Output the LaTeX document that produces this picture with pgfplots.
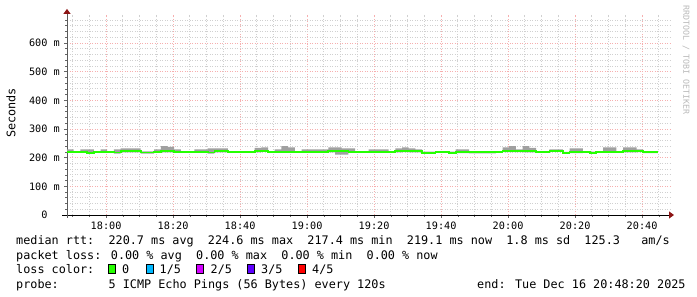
\documentclass[border=0pt]{standalone}
\usepackage{fontspec}
\setmainfont{DejaVu Sans Mono}
\usepackage{pgfplots}
\pgfplotsset{compat=1.18}
\usepackage{pgfplotstable}
\usepgfplotslibrary{fillbetween}
\usetikzlibrary{arrows.meta}

\definecolor{mgridc}{RGB}{246,175,175}
\definecolor{gridc}{RGB}{208,208,208}
\definecolor{smoke}{RGB}{160,160,160}
\definecolor{med}{RGB}{38,255,0}
\definecolor{arrowred}{RGB}{140,20,20}
\definecolor{l1}{RGB}{0,184,255}
\definecolor{l2}{RGB}{210,0,255}
\definecolor{l3}{RGB}{94,0,255}
\definecolor{l4}{RGB}{255,0,0}
\definecolor{wmark}{RGB}{185,185,185}

\newcommand\legendfont{\fontsize{11.8bp}{14bp}\selectfont}
\newcommand\axisfont{\fontsize{10.2bp}{12bp}\selectfont}
\newcommand\wmfont{\fontsize{8.3bp}{10bp}\selectfont}

\pgfplotstableread{
t m lo hi
0 221 217.5 229
2 221 217.5 223
4 221 217.5 229
6 217.5 214 229
8 221 217.5 223
10 221 217.5 229
12 221 217.5 223
14 218 214.5 229
16 222 218.5 232
18 222 218.5 232
20 222 218.5 232
22 218 214.5 222
24 218 214.5 222
26 221 217.5 229
28 222 218.5 240
30 222 218.5 238
32 221 217.5 229
34 220 216.5 222
36 220 216.5 222
38 221 217.5 229
40 221 217.5 229
42 218 214.5 232
44 222 218.5 232
46 222 218.5 232
48 221 217.5 223
50 221 217.5 223
52 221 217.5 223
54 221 217.5 223
56 222 218.5 234
58 224 220.5 236
60 221 217.5 223
62 221 217.5 229
64 221 217.5 240
66 221 217.5 236
68 220 216.5 222
70 220 216.5 229
72 220 216.5 229
74 220 216.5 229
76 221 217.5 229
78 222 218.5 236
80 222 211 236
82 223 211 232
84 221 217.5 232
86 220 216.5 222
88 220 216.5 222
90 221 217.5 229
92 221 217.5 229
94 221 217.5 229
96 220 216.5 222
98 222 218.5 232
100 223 219.5 236
102 222 218.5 232
104 222 218.5 229
106 217.5 214 221
108 217.5 214 221
110 220 216.5 222
112 220 216.5 222
114 217.5 214 221
116 219 215.5 229
118 219 215.5 229
120 218.5 215 222
122 218.5 215 222
124 218.5 215 222
126 218.5 215 222
128 221 217.5 223
130 223 219.5 236
132 223 219.5 240
134 223 219.5 229
136 222 218.5 240
138 222 218.5 234
140 221 217.5 223
142 221 217.5 223
144 224.5 221 229
146 224.5 221 229
148 217.5 214 220
150 219 215.5 232
152 219 215.5 232
154 221 217.5 223
156 217.5 214 221
158 221 217.5 223
160 221 217.5 236
162 221 217.5 236
164 221 217.5 223
166 222 218.5 236
168 222 218.5 236
170 223 219.5 229
172 219 215.5 222
174 219 215.5 222
176.4 219 215.5 222
}\pingdata

\begin{document}
\begin{tikzpicture}
\begin{axis}[
  at={(67bp,82bp)}, anchor=south west,
  scale only axis, width=603bp, height=200.1bp,
  xmin=0, xmax=180, ymin=0, ymax=698,
  axis lines=left,
  x axis line style={black, line width=0.9bp, shorten <=-5bp, shorten >=-4bp,
     -{Triangle[length=5bp,width=7bp,color=arrowred,fill=arrowred]}},
  y axis line style={black!65, line width=0.9bp, shorten <=-3bp, shorten >=-6bp,
     -{Triangle[length=5bp,width=7bp,color=arrowred,fill=arrowred]}},
  xtick={11.6667,31.6667,51.6667,71.6667,91.6667,111.6667,131.6667,151.6667,171.6667},
  xticklabels={18:00,18:20,18:40,19:00,19:20,19:40,20:00,20:20,20:40},
  minor xtick={1.6667,6.6667,16.6667,21.6667,26.6667,36.6667,41.6667,46.6667,56.6667,61.6667,66.6667,76.6667,81.6667,86.6667,96.6667,101.6667,106.6667,116.6667,121.6667,126.6667,136.6667,141.6667,146.6667,156.6667,161.6667,166.6667,176.6667},
  ytick={0,100,200,300,400,500,600},
  yticklabels={0\hphantom{00},100 m,200 m,300 m,400 m,500 m,600 m},
  minor ytick={20,40,60,80,120,140,160,180,220,240,260,280,320,340,360,380,420,440,460,480,520,540,560,580,620,640,660,680},
  grid=both,
  major grid style={mgridc, dash pattern=on 1bp off 1.5bp, line width=0.8bp},
  minor grid style={gridc, dash pattern=on 1bp off 1.5bp, line width=0.8bp},
  tick align=outside,
  major tick length=3bp, minor tick length=2bp,
  tick style={black!60, line width=0.6bp},
  ticklabel style={font=\axisfont},
  xticklabel style={inner sep=0pt, anchor=north, yshift=-3.5bp},
  yticklabel style={inner sep=0pt, anchor=east, xshift=-4bp},
  clip=false,
]
\addplot[name path=hi, draw=none, const plot] table[x=t, y=hi] {\pingdata};
\addplot[name path=lo, draw=none, const plot] table[x=t, y=lo] {\pingdata};
\addplot[smoke, draw=none] fill between[of=hi and lo];
\addplot[med, line width=1.8bp, const plot] table[x=t, y=m] {\pingdata};
\end{axis}

\node[rotate=90, font=\legendfont, inner sep=0pt] at (11bp,184bp) {Seconds};
\node[rotate=-90, font=\wmfont, text=wmark, inner sep=0pt] at (686bp,237bp) {RRDTOOL / TOBI OETIKER};

\node[anchor=base west, inner sep=0pt, font=\legendfont] at (16bp,52bp)
  {median rtt:~~220.7 ms avg~~224.6 ms max~~217.4 ms min~~219.1 ms now~~1.8 ms sd~~125.3~~~am/s};
\node[anchor=base west, inner sep=0pt, font=\legendfont] at (16bp,38bp)
  {packet loss: 0.00 \% avg~~0.00 \% max~~0.00 \% min~~0.00 \% now};
\node[anchor=base west, inner sep=0pt, font=\legendfont] at (16bp,24bp) {loss color:};
\filldraw[fill=med, draw=black, line width=0.8bp] (108.5bp,24bp) rectangle (115.5bp,33bp);
\node[anchor=base west, inner sep=0pt, font=\legendfont] at (122bp,24bp) {0};
\filldraw[fill=l1, draw=black, line width=0.8bp] (146bp,24bp) rectangle (153bp,33bp);
\node[anchor=base west, inner sep=0pt, font=\legendfont] at (159.5bp,24bp) {1/5};
\filldraw[fill=l2, draw=black, line width=0.8bp] (196.5bp,24bp) rectangle (203.5bp,33bp);
\node[anchor=base west, inner sep=0pt, font=\legendfont] at (210.5bp,24bp) {2/5};
\filldraw[fill=l3, draw=black, line width=0.8bp] (247bp,24bp) rectangle (254bp,33bp);
\node[anchor=base west, inner sep=0pt, font=\legendfont] at (261bp,24bp) {3/5};
\filldraw[fill=l4, draw=black, line width=0.8bp] (298.5bp,24bp) rectangle (305.5bp,33bp);
\node[anchor=base west, inner sep=0pt, font=\legendfont] at (312bp,24bp) {4/5};
\node[anchor=base west, inner sep=0pt, font=\legendfont] at (16bp,9bp) {probe:};
\node[anchor=base west, inner sep=0pt, font=\legendfont] at (108.4bp,9bp) {5 ICMP Echo Pings (56 Bytes) every 120s};
\node[anchor=base west, inner sep=0pt, font=\legendfont] at (477bp,9bp) {end: Tue Dec 16 20:48:20 2025};
\path[use as bounding box] (0,0) rectangle (697bp,297bp);
\end{tikzpicture}
\end{document}
